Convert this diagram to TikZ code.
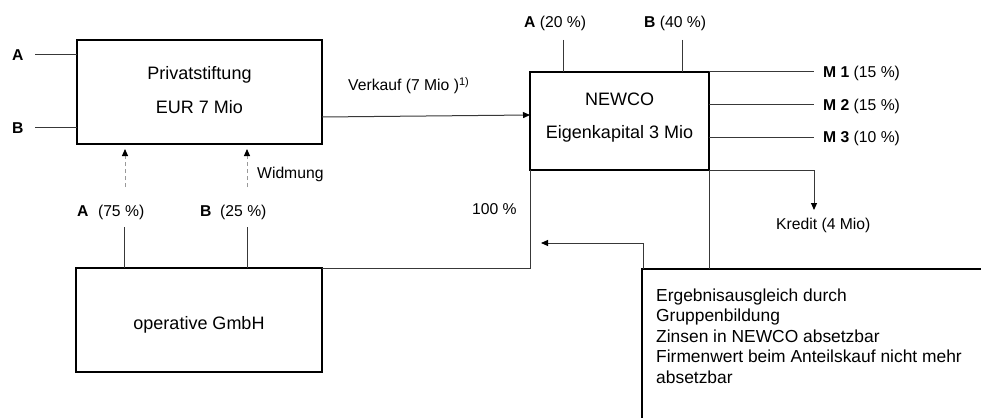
\documentclass[tikz,border=0pt]{standalone}
\usepackage{fontspec}
\setmainfont{Liberation Sans}
\usetikzlibrary{arrows.meta}
\tikzset{
  box/.style={draw=black,line width=1.6pt,inner sep=0pt,outer sep=0pt},
  boxtxt/.style={font=\fontsize{18}{22}\selectfont,inner sep=0pt,anchor=base},
  lbl/.style={font=\fontsize{15.7}{18}\selectfont,inner sep=0pt,anchor=base west},
  conn/.style={line width=1pt,draw=black!78},
  tip/.style={-{Triangle[length=7pt,width=6pt,color=black]}},
  dashconn/.style={line width=1pt,draw=black!40,dash pattern=on 4pt off 3pt},
  notetxt/.style={font=\fontsize{17.4}{20.5}\selectfont,align=left,inner sep=0pt,anchor=north west}
}
\begin{document}
\begin{tikzpicture}[x=1pt,y=-1pt]
\useasboundingbox (0,0) rectangle (981,417);
\fill[white] (0,0) rectangle (981,417);

% boxes
\node[box,minimum width=245pt,minimum height=104pt] (priv) at (199.5,92) {};
\node[boxtxt] (privT1) at (199.5,79.4) {Privatstiftung};
\node[boxtxt] (privT2) at (199.5,113.4) {EUR 7 Mio};

\node[box,minimum width=179pt,minimum height=98pt] (newco) at (619.5,121) {};
\node[boxtxt] (newT1) at (619.5,105.4) {NEWCO};
\node[boxtxt] (newT2) at (619.5,138) {Eigenkapital 3 Mio};

\node[box,minimum width=246pt,minimum height=104pt] (oper) at (199,320) {};
\node[boxtxt] (operT) at (199,329) {operative GmbH};

% note box (open to the right and bottom)
\coordinate (noteTL) at (642,269);
\coordinate (noteBL) at (642,420);
\coordinate (noteTR) at (985,269);
\draw[box] (noteBL) -- (noteTL) -- (noteTR);
\node[notetxt] (note) at (656,288.6) {Ergebnisausgleich durch\\Gruppenbildung\\Zinsen in NEWCO absetzbar\\Firmenwert beim Anteilskauf nicht mehr\\absetzbar};

% labels
\node[lbl] (lA) at (12,60.6) {\textbf{A}};
\node[lbl] (lB) at (12,133.6) {\textbf{B}};
\node[lbl] (l75) at (77,216.6) {\textbf{A}\hspace{9.5pt}(75 \%)};
\node[lbl] (l25) at (200,216.6) {\textbf{B}\hspace{8.7pt}(25 \%)};
\node[lbl] (lWid) at (257,178.6) {Widmung};
\node[lbl] (l100) at (472,214.6) {100 \%};
\node[lbl] (lVk) at (348,90.4) {Verkauf (7 Mio )\textsuperscript{1)}};
\node[lbl] (l20) at (524,28) {\textbf{A} (20 \%)};
\node[lbl] (l40) at (644,28) {\textbf{B} (40 \%)};
\node[lbl] (lM1) at (823,77.3) {\textbf{M 1} (15 \%)};
\node[lbl] (lM2) at (823,110.6) {\textbf{M 2} (15 \%)};
\node[lbl] (lM3) at (823,142.6) {\textbf{M 3} (10 \%)};
\node[lbl] (lKr) at (776,229.6) {Kredit (4 Mio)};

% left owner lines
\coordinate (aL) at (35,55);
\coordinate (bL) at (35,127);
\draw[conn] (aL) -- (aL -| priv.west);
\draw[conn] (bL) -- (bL -| priv.west);

% Verkauf arrow
\draw[conn,tip] ([yshift=-25pt]priv.east) -- ([yshift=6pt]newco.west);

% Widmung dashed arrows
\coordinate (dA) at (125,187);
\coordinate (dB) at (247,187);
\draw[dashconn,tip] (dA) -- ([yshift=-5pt]priv.south -| dA);
\draw[dashconn,tip] (dB) -- ([yshift=-5pt]priv.south -| dB);

% shareholder lines to operative GmbH
\coordinate (vA) at (124,227);
\coordinate (vB) at (247,227);
\draw[conn] (vA) -- (vA |- oper.north);
\draw[conn] (vB) -- (vB |- oper.north);

% 100 % line
\draw[conn] (oper.north east) -- (oper.north east -| newco.south west) -- (newco.south west);

% NEWCO shareholders on top
\coordinate (tA) at (563,40);
\coordinate (tB) at (682,40);
\draw[conn] (tA) -- (tA |- newco.north);
\draw[conn] (tB) -- (tB |- newco.north);

% M lines
\coordinate (m1) at (814,72);
\coordinate (m2) at (814,105);
\coordinate (m3) at (814,137);
\draw[conn] (newco.north east) -- (m1);
\draw[conn] (m2 -| newco.east) -- (m2);
\draw[conn] (m3 -| newco.east) -- (m3);

% Kredit
\coordinate (kEnd) at (814,210);
\draw[conn,tip] (newco.south east) -| (kEnd);

% vertical from NEWCO to note
\draw[conn] (newco.south east) -- (newco.south east |- noteTL);

% arrow from note back
\coordinate (nA) at (643,269);
\coordinate (nEnd) at (541,243);
\draw[conn,tip] (nA) |- (nEnd);
\end{tikzpicture}
\end{document}
